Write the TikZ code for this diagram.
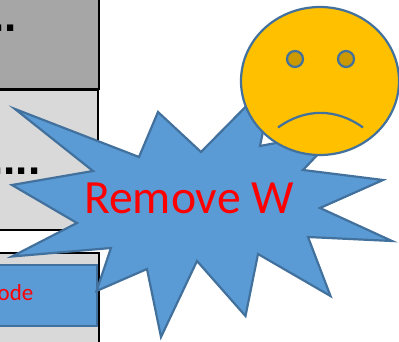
\documentclass[tikz,border=0pt]{standalone}
\usepackage{fontspec}
\setmainfont{Carlito}
\newfontfamily\dotfont[BoldFont={Liberation Sans Bold}]{Liberation Sans}
\tikzset{
  px/.style={x=1pt,y=-1pt},
  panel/.style={draw=black,line width=2pt},
  shapeline/.style={draw=starline,line width=2.2pt,line join=miter},
  eye/.style={fill=eyefill,shapeline},
}
\definecolor{darkpanel}{HTML}{A6A6A6}
\definecolor{lightpanel}{HTML}{D9D9D9}
\definecolor{starfill}{HTML}{5B9BD5}
\definecolor{starline}{HTML}{41719C}
\definecolor{facefill}{HTML}{FFC000}
\definecolor{eyefill}{HTML}{CC9A00}
\begin{document}
\begin{tikzpicture}[px]
\useasboundingbox (0,0) rectangle (399,342);
\clip (0,0) rectangle (399,342);
\fill[white] (0,0) rectangle (399,342);
% panels
\draw[panel,fill=darkpanel] (-10,-10) rectangle (98.5,89.5);
\draw[panel,fill=lightpanel] (-10,90) rectangle (97.5,229.5);
\draw[panel,fill=lightpanel] (-10,252.5) rectangle (98.5,352);
\draw[shapeline,fill=starfill] (-10,265) rectangle (97,326);
\node[anchor=base west,inner sep=0pt,text=red,font=\fontsize{23}{23}\selectfont] (code) at (-2.5,300.5) {ode};
\node[anchor=base east,inner sep=0pt,font=\dotfont\bfseries\fontsize{44}{44}\selectfont] (dotsA) at (17,31.5) {..};
\node[anchor=base east,inner sep=0pt,font=\dotfont\bfseries\fontsize{44}{44}\selectfont] (dotsB) at (40.5,175) {....};
% star
\draw[shapeline,fill=starfill] (15,109) -- (139,157) -- (158,112) -- (201,152) -- (274,78) -- (260,146) -- (340,131) -- (303,170) -- (383,180) -- (320,208) -- (392,241) -- (308,237) -- (330.5,296) -- (258,254) -- (245.5,316) -- (197,261) -- (161,337) -- (147,269) -- (96.5,291) -- (111,248) -- (12,256.5) -- (77,223) -- (12,185) -- (93,171) -- cycle;
\node[text=red,inner sep=0pt,anchor=base,font=\fontsize{47.7}{48}\selectfont] (label) at (189,213) {Remove W};
% face
\draw[shapeline,fill=facefill] (320,81) ellipse [x radius=79,y radius=74];
\draw[eye] (295,59) circle (8);
\draw[eye] (346,59) circle (8);
\draw[shapeline] (278,127.5) .. controls (305,108) and (336,108) .. (363,127.5);
\end{tikzpicture}
\end{document}
